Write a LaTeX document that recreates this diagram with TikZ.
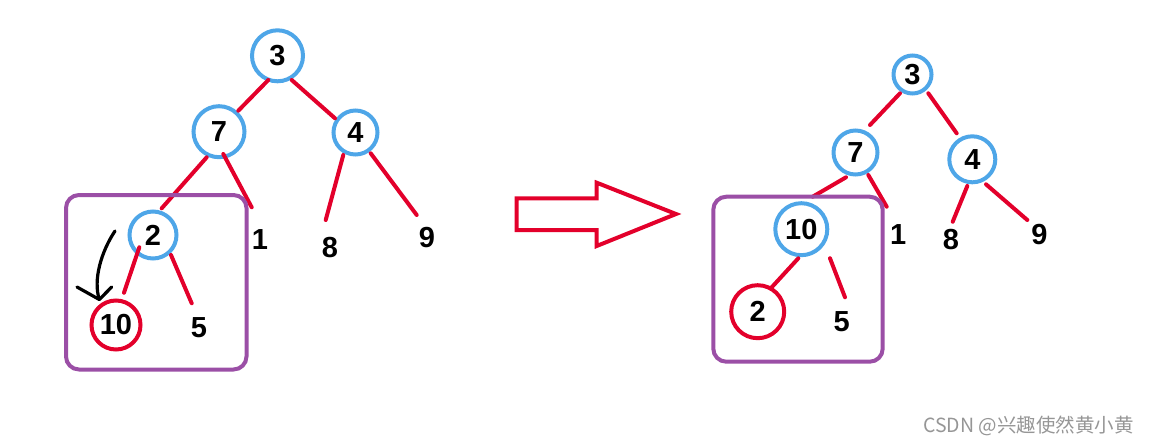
\documentclass[tikz,border=0pt]{standalone}
\usepackage{fontspec}
\setmainfont{Liberation Sans}
\newfontfamily\wmfont{Noto Sans CJK SC}
\usetikzlibrary{calc}
\definecolor{ered}{RGB}{227,0,43}
\definecolor{nblue}{RGB}{78,166,232}
\definecolor{bpurple}{RGB}{155,79,166}
\definecolor{wmgray}{RGB}{150,150,150}
\tikzset{
  num/.style={font=\bfseries\fontsize{29}{31}\selectfont, inner sep=0pt, text=black},
  bnode/.style={num, circle, draw=nblue, line width=4pt},
  rnode/.style={num, circle, draw=ered, line width=4pt},
  edge/.style={draw=ered, line width=4pt, line cap=round},
  sbox/.style={draw=bpurple, line width=4pt, rounded corners=13pt},
  bigarrow/.style={draw=ered, line width=4pt, line join=miter},
  hand/.style={draw=black, line width=3.2pt, line cap=round, line join=round}
}
\begin{document}
\begin{tikzpicture}[x=1pt, y=-1pt]
\useasboundingbox (0,0) rectangle (1150,445);
% ---------- left tree ----------
\node[bnode, minimum size=51pt] (L3) at (277.5,55.8) {3};
\node[bnode, minimum size=51pt] (L7) at (219,131.7) {7};
\node[bnode, minimum size=44pt] (L4) at (355.5,132.5) {4};
\node[bnode, minimum size=47pt] (L2) at (153,235) {2};
\node[rnode, minimum size=49pt] (L10) at (116,325) {10};
\node[num] (L1) at (260,240) {1};
\node[num] (L8) at (330,248) {8};
\node[num] (L9) at (427,238) {9};
\node[num] (L5) at (199,328) {5};
\draw[edge] ($(L3)+(-9.2,24.2)$) -- ($(L7)+(19.3,-21)$);
\draw[edge] ($(L3)+(14.2,24.2)$) -- ($(L4)+(-20.5,-14.2)$);
\draw[edge] ($(L7)+(-12.3,25.6)$) -- ($(L2)+(8.7,-26.7)$);
\draw[edge] ($(L7)+(4.3,22.3)$) -- ($(L1)+(-8.3,-32.7)$);
\draw[edge] ($(L4)+(-12.2,22.5)$) -- ($(L8)+(-4.3,-28)$);
\draw[edge] ($(L4)+(15.2,20.8)$) -- ($(L9)+(-10.3,-23)$);
\draw[edge] ($(L2)+(-13.7,12.3)$) -- ($(L10)+(8,-32.3)$);
\draw[edge] ($(L2)+(18,20)$) -- ($(L5)+(-7.3,-24.7)$);
\draw[sbox] (66,195) rectangle (246.5,369.5);
% hand-drawn black arrow
\coordinate (hs) at (115,231);
\coordinate (ht) at (99.3,299.5);
\coordinate (hl) at (77,287);
\coordinate (hr) at (111.7,287);
\draw[hand] (hs) .. controls (101,252) and (93,280) .. (ht);
\draw[hand] (hl) -- (ht) -- (hr);
% ---------- big hollow arrow ----------
\draw[bigarrow] (516.7,198.3) -- (596.7,198.3) -- (596.7,182.7) -- (676,214)
  -- (596.7,246) -- (596.7,230) -- (516.7,230) -- cycle;
% ---------- right tree ----------
\node[bnode, minimum size=38pt] (R3) at (912.5,74.5) {3};
\node[bnode, minimum size=44pt] (R7) at (855.5,152.5) {7};
\node[bnode, minimum size=46pt] (R4) at (972.3,159.3) {4};
\node[bnode, minimum size=52pt] (R10) at (801.3,229.2) {10};
\node[rnode, minimum size=53pt] (R2) at (757.7,311.7) {2};
\node[num] (R1) at (898.3,235) {1};
\node[num] (R8) at (951,239.3) {8};
\node[num] (R9) at (1039.3,235) {9};
\node[num] (R5) at (841.7,321.7) {5};
\draw[edge] ($(R3)+(-12.5,18.8)$) -- ($(R7)+(14.5,-27.5)$);
\draw[edge] ($(R3)+(15.8,18.8)$) -- ($(R4)+(-15.6,-26)$);
\draw[edge] ($(R7)+(-9.5,24.8)$) -- ($(R10)+(11.4,-32.5)$);
\draw[edge] ($(R7)+(12.8,22.5)$) -- ($(R1)+(-11.6,-28.3)$);
\draw[edge] ($(R4)+(-5,26.7)$) -- ($(R8)+(1.7,-17.6)$);
\draw[edge] ($(R4)+(13.7,25)$) -- ($(R9)+(-12,-15)$);
\draw[edge] ($(R10)+(-3,29.1)$) -- ($(R2)+(14,-24.4)$);
\draw[edge] ($(R10)+(28.7,29.1)$) -- ($(R5)+(3.3,-24.4)$);
\draw[sbox] (713.3,196.7) rectangle (882.7,361.7);
% ---------- watermark ----------
\node[anchor=east, inner sep=0pt, text=wmgray, font=\wmfont\fontsize{19.5}{21}\selectfont] (wm) at (1134,426) {CSDN @兴趣使然黄小黄};
\end{tikzpicture}
\end{document}
